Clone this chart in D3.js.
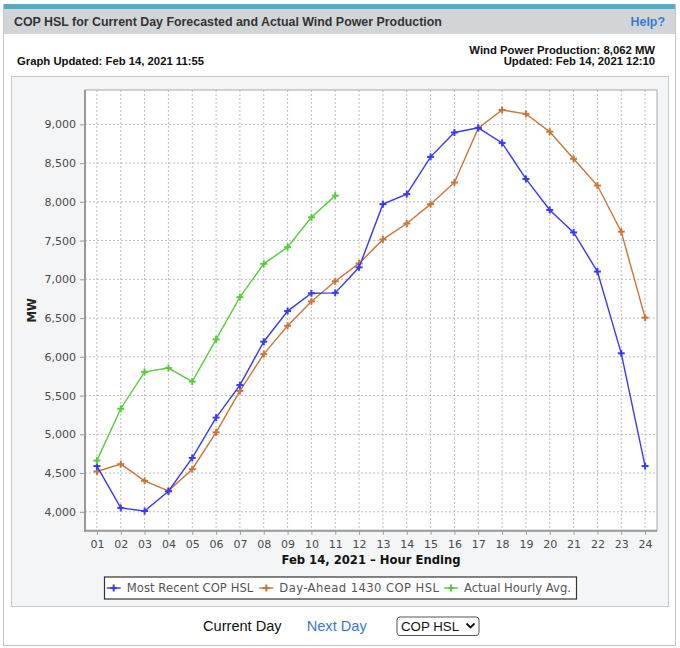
<!DOCTYPE html>
<html><head><meta charset="utf-8">
<script src="https://cdn.jsdelivr.net/npm/d3@7/dist/d3.min.js"></script>
<style>
html,body{margin:0;padding:0;background:#fff;}
svg{display:block;}
</style></head>
<body>
<svg id="c" width="680" height="648"></svg>
<script>
const hours = ["01","02","03","04","05","06","07","08","09","10","11","12","13","14","15","16","17","18","19","20","21","22","23","24"];
const mostRecent = [4590,4050,4010,4265,4695,5215,5635,6195,6590,6820,6825,7155,7970,8100,8580,8895,8955,8760,8295,7895,7605,7100,6045,4590];
const dayAhead = [4520,4615,4400,4270,4550,5025,5560,6035,6400,6715,6975,7205,7515,7720,7970,8250,8950,9185,9135,8905,8555,8210,7615,6505];
const actual = [4660,5330,5805,5855,5680,6225,6770,7200,7415,7800,8080];
const yTicks = [4000,4500,5000,5500,6000,6500,7000,7500,8000,8500,9000];
const seriesNames = ["Most Recent COP HSL","Day-Ahead 1430 COP HSL","Actual Hourly Avg."];
const seriesColors = ["#3a3af2","#c8763a","#5acb3e"];

const svg = d3.select("#c");
const HF = "'Liberation Sans', Arial, Helvetica, sans-serif";
const CF = "'DejaVu Sans', sans-serif";

// outer frame
svg.append("rect").attr("x",3.5).attr("y",4.5).attr("width",672).attr("height",641)
  .attr("fill","#fff").attr("stroke","#c4c4c4");
svg.append("rect").attr("x",4).attr("y",4).attr("width",671).attr("height",5).attr("fill","#5ba8c4");
svg.append("rect").attr("x",4).attr("y",9).attr("width",671).attr("height",25).attr("fill","#d2d5d8");
svg.append("text").attr("x",14).attr("y",26).attr("font-family",HF).attr("font-weight","bold")
  .attr("font-size","12.4px").attr("fill","#333").text("COP HSL for Current Day Forecasted and Actual Wind Power Production");
svg.append("text").attr("x",665).attr("y",26).attr("text-anchor","end").attr("font-family",HF).attr("font-weight","bold")
  .attr("font-size","12.4px").attr("fill","#3b7bd4").text("Help?");
svg.append("text").attr("x",655).attr("y",54).attr("text-anchor","end").attr("font-family",HF).attr("font-weight","bold")
  .attr("font-size","11.3px").attr("fill","#111").text("Wind Power Production: 8,062 MW");
svg.append("text").attr("x",655).attr("y",65).attr("text-anchor","end").attr("font-family",HF).attr("font-weight","bold")
  .attr("font-size","11.3px").attr("fill","#111").text("Updated: Feb 14, 2021 12:10");
svg.append("text").attr("x",17).attr("y",65).attr("font-family",HF).attr("font-weight","bold")
  .attr("font-size","11.3px").attr("fill","#111").text("Graph Updated: Feb 14, 2021 11:55");

// chart panel
svg.append("rect").attr("x",11.5).attr("y",76.5).attr("width",657).attr("height",530)
  .attr("fill","#f4f5f6").attr("stroke","#c8c8c8");

const L=85, R=657, T=90, B=530.7;
const x = d3.scaleLinear().domain([0.5,24.5]).range([L,R]);
const y = d3.scaleLinear().domain([3756,9443]).range([B,T]);

svg.append("rect").attr("x",L).attr("y",T).attr("width",R-L).attr("height",B-T).attr("fill","#fff");

// gridlines
const g = svg.append("g");
g.selectAll(".vg").data(hours).join("line")
  .attr("x1",(d,i)=>x(i+1)).attr("x2",(d,i)=>x(i+1)).attr("y1",T).attr("y2",B)
  .attr("stroke","#bdbdbd").attr("stroke-width",1).attr("stroke-dasharray","2,2");
g.selectAll(".hg").data(yTicks).join("line")
  .attr("x1",L).attr("x2",R).attr("y1",d=>y(d)).attr("y2",d=>y(d))
  .attr("stroke","#bdbdbd").attr("stroke-width",1).attr("stroke-dasharray","2,2");

// outline
svg.append("rect").attr("x",L).attr("y",T).attr("width",R-L).attr("height",B-T)
  .attr("fill","none").attr("stroke","#a8a8a8").attr("stroke-width",1);
svg.append("line").attr("x1",L).attr("x2",L).attr("y1",T).attr("y2",B+1).attr("stroke","#999").attr("stroke-width",2);
svg.append("line").attr("x1",L-1).attr("x2",R).attr("y1",B).attr("y2",B).attr("stroke","#999").attr("stroke-width",2);

// axes
const yAxis = d3.axisLeft(y).tickValues(yTicks).tickSize(4).tickPadding(4).tickFormat(d3.format(","));
const ya = svg.append("g").attr("transform",`translate(${L-1},0)`).call(yAxis);
ya.select(".domain").remove();
ya.selectAll(".tick line").attr("stroke","#999");
ya.selectAll("text").attr("font-family",CF).attr("font-size","11px").attr("fill","#4a4a4a");

const xAxis = d3.axisBottom(x).tickValues(d3.range(1,25)).tickSize(3).tickPadding(6).tickFormat(d=>hours[d-1]);
const xa = svg.append("g").attr("transform",`translate(0,${B+1})`).call(xAxis);
xa.select(".domain").remove();
xa.selectAll(".tick line").attr("stroke","#999");
xa.selectAll("text").attr("font-family",CF).attr("font-size","11px").attr("fill","#4a4a4a");

svg.append("text").attr("x",(L+R)/2).attr("y",564).attr("text-anchor","middle").attr("font-family",CF)
  .attr("font-weight","bold").attr("font-size","11.6px").attr("fill","#111").text("Feb 14, 2021 \u2013 Hour Ending");
svg.append("text").attr("transform",`translate(35.5,${(T+B)/2}) rotate(-90)`).attr("text-anchor","middle")
  .attr("font-family",CF).attr("font-weight","bold").attr("font-size","11.6px").attr("fill","#222").text("MW");

// series
const line = d3.line().x((d,i)=>x(i+1)).y(d=>y(d));
const allSeries = [mostRecent, dayAhead, actual];
function plus(sel, color){
  sel.append("line").attr("x1",-3.5).attr("x2",3.5).attr("y1",0).attr("y2",0).attr("stroke",color).attr("stroke-width",2);
  sel.append("line").attr("x1",0).attr("x2",0).attr("y1",-3.5).attr("y2",3.5).attr("stroke",color).attr("stroke-width",2);
}
[1,0,2].forEach(k=>{
  const data = allSeries[k], c = seriesColors[k];
  svg.append("path").datum(data).attr("d",line).attr("fill","none").attr("stroke",c).attr("stroke-width",1.4);
  svg.append("g").selectAll("g").data(data).join("g")
    .attr("transform",(d,i)=>`translate(${x(i+1)},${y(d)})`)
    .each(function(){ plus(d3.select(this), c); });
});

// legend
svg.append("rect").attr("x",104.5).attr("y",577).attr("width",472).attr("height",22)
  .attr("fill","#fff").attr("stroke","#333").attr("stroke-width",1.2);
const legendX = [126.7, 279.3, 464];
const legendW = [126.6, 159.7, 107];
const lg = svg.append("g");
seriesNames.forEach((n,k)=>{
  const c = seriesColors[k], tx = legendX[k];
  lg.append("line").attr("x1",tx-20).attr("x2",tx-6).attr("y1",588).attr("y2",588).attr("stroke",c).attr("stroke-width",1.4);
  const m = lg.append("g").attr("transform",`translate(${tx-13},588)`);
  plus(m,c);
  lg.append("text").attr("x",tx).attr("y",592).attr("font-family",CF).attr("font-size","11.6px").attr("fill","#555")
    .attr("textLength",legendW[k]).attr("lengthAdjust","spacing").text(n);
});

// bottom controls
svg.append("text").attr("x",203).attr("y",631).attr("font-family",HF).attr("font-size","14.6px").attr("fill","#111").text("Current Day");
svg.append("text").attr("x",306.7).attr("y",631).attr("font-family",HF).attr("font-size","14.6px").attr("fill","#3a78d0").text("Next Day");
svg.append("rect").attr("x",397).attr("y",617).attr("width",82).attr("height",18.5).attr("rx",3)
  .attr("fill","#fff").attr("stroke","#555").attr("stroke-width",1);
svg.append("text").attr("x",401).attr("y",630.5).attr("font-family",HF).attr("font-size","13.3px").attr("fill","#111").text("COP HSL");
svg.append("path").attr("d","M466.5,623.5 L470.5,627.5 L474.5,623.5").attr("fill","none").attr("stroke","#111").attr("stroke-width",1.8);
</script>
</body></html>
